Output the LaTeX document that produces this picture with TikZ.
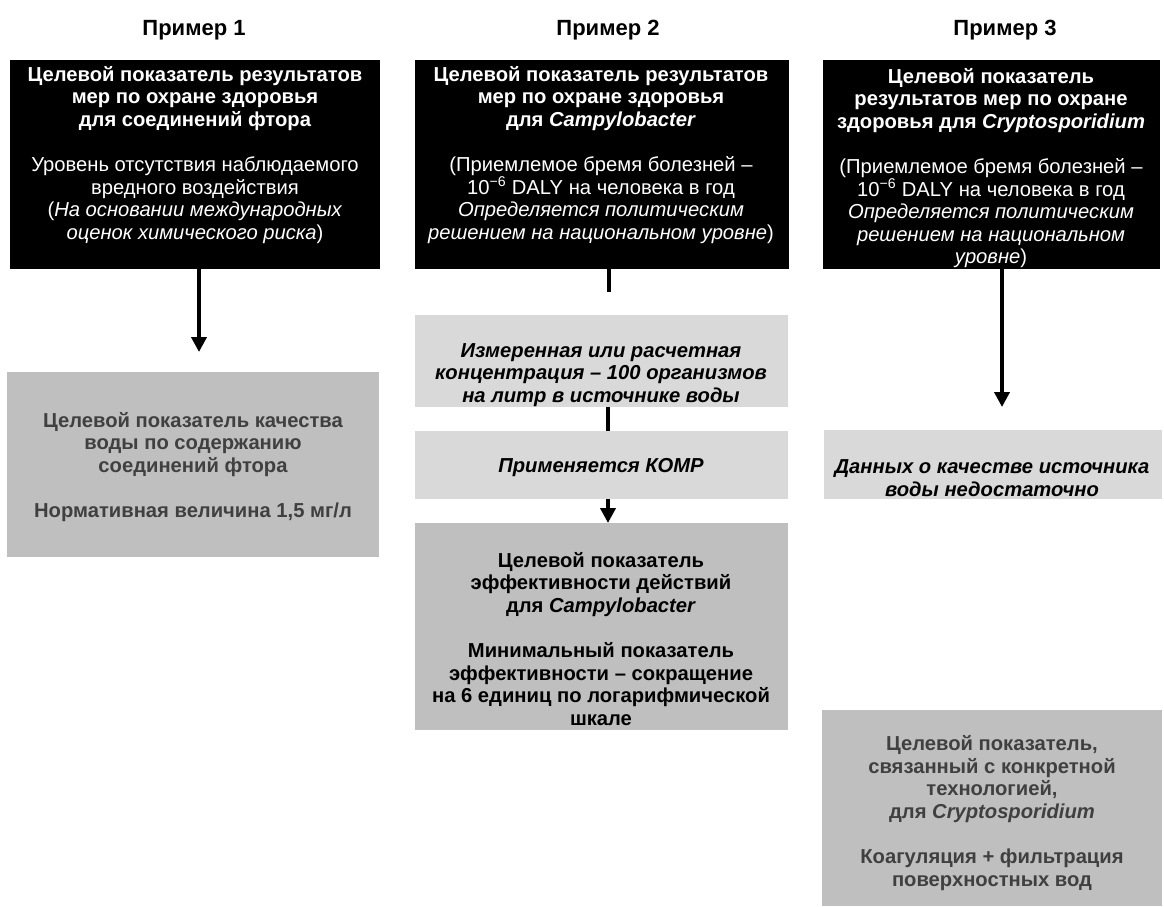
\documentclass[tikz,border=0pt]{standalone}
\usepackage{fontspec}
\setmainfont{Liberation Sans}
\usetikzlibrary{arrows.meta}
\definecolor{boxdark}{HTML}{BFBFBF}
\definecolor{boxlight}{HTML}{D9D9D9}
\definecolor{greytext}{HTML}{404040}
\newcommand{\bodysize}{\fontsize{20.2}{22.6}\selectfont}
\begin{document}
\begin{tikzpicture}[x=1pt,y=-1pt,
  box/.style={inner sep=0pt, outer sep=0pt, anchor=north west},
  txt/.style={inner sep=0pt, align=center, font=\bodysize},
  head/.style={inner sep=0pt, font=\fontsize{22}{25}\selectfont\bfseries},
  ln/.style={line width=4pt, draw=black},
  arr/.style={ln, -{Triangle[width=15pt,length=15pt]}}
]
\useasboundingbox (0,0) rectangle (1164,906);

% column headings
\node[head] (h1) at (194,30) {Пример 1};
\node[head] (h2) at (608,30) {Пример 2};
\node[head] (h3) at (1005,30) {Пример 3};

% health-outcome target boxes
\node[box, fill=black, minimum width=370pt, minimum height=209pt] (b1) at (10,60) {};
\node[box, fill=black, minimum width=374pt, minimum height=209pt] (b2) at (415,60) {};
\node[box, fill=black, minimum width=337pt, minimum height=209pt] (b3) at (823,60) {};

\node[txt, text=white] (b1t) at (195,155) {\textbf{Целевой показатель результатов}\\\textbf{мер по охране здоровья}\\\textbf{для соединений фтора}\\[22.6pt]Уровень отсутствия наблюдаемого\\вредного воздействия\\(\textit{На основании международных}\\\textit{оценок химического риска})};
\node[txt, text=white] (b2t) at (601,155) {\textbf{Целевой показатель результатов}\\\textbf{мер по охране здоровья}\\\textbf{для \textit{Campylobacter}}\\[22.6pt](Приемлемое бремя болезней –\\10\textsuperscript{−6} DALY на человека в год\\\textit{Определяется политическим}\\\textit{решением на национальном уровне})};
\node[txt, text=white] (b3t) at (991,168) {\textbf{Целевой показатель}\\\textbf{результатов мер по охране}\\\textbf{здоровья для \textit{Cryptosporidium}}\\[22.6pt](Приемлемое бремя болезней –\\10\textsuperscript{−6} DALY на человека в год\\\textit{Определяется политическим}\\\textit{решением на национальном}\\\textit{уровне})};

% example 1: water quality target
\node[box, fill=boxdark, minimum width=372pt, minimum height=185pt] (g1) at (7,372) {};
\node[txt, text=greytext, font=\bodysize\bfseries] (g1t) at (193,467) {Целевой показатель качества\\воды по содержанию\\соединений фтора\\[22.6pt]Нормативная величина 1,5 мг/л};

% example 2: performance target chain
\node[box, fill=boxlight, minimum width=373pt, minimum height=92pt] (a2) at (415,315) {};
\node[txt, font=\bodysize\bfseries\itshape] (a2t) at (601,375) {Измеренная или расчетная\\концентрация – 100 организмов\\на литр в источнике воды};

\node[box, fill=boxlight, minimum width=373pt, minimum height=68pt] (m2) at (415,431) {};
\node[txt, font=\bodysize\bfseries\itshape] (m2t) at (601,468) {Применяется КОМР};

\node[box, fill=boxdark, minimum width=373pt, minimum height=207pt] (c2) at (415,523) {};
\node[txt, font=\bodysize\bfseries] (c2t) at (601,639) {Целевой показатель\\эффективности действий\\для \textit{Campylobacter}\\[22.6pt]Минимальный показатель\\эффективности – сокращение\\на 6 единиц по логарифмической\\шкале};

% example 3: technology target
\node[box, fill=boxlight, minimum width=338pt, minimum height=69pt] (d3) at (824,430) {};
\node[txt, font=\bodysize\bfseries\itshape] (d3t) at (992,478) {Данных о качестве источника\\воды недостаточно};

\node[box, fill=boxdark, minimum width=340pt, minimum height=196pt] (t3) at (822,710) {};
\node[txt, text=greytext, font=\bodysize\bfseries] (t3t) at (992,813) {Целевой показатель,\\связанный с конкретной\\технологией,\\для \textit{Cryptosporidium}\\[22.6pt]Коагуляция + фильтрация\\поверхностных вод};

% connectors
\draw[arr, shorten >=20pt] ([xshift=4pt]b1.south) -- ([xshift=4pt]b1.south |- g1.north);
\draw[ln, shorten >=23pt] ([xshift=6.5pt]b2.south) -- ([xshift=6.5pt]b2.south |- a2.north);
\draw[ln] ([xshift=6.5pt]a2.south) -- ([xshift=6.5pt]a2.south |- m2.north);
\draw[arr] ([xshift=6.5pt]m2.south) -- ([xshift=6.5pt]m2.south |- c2.north);
\draw[arr, shorten >=23pt] ([xshift=10.5pt]b3.south) -- ([xshift=10.5pt]b3.south |- d3.north);
\end{tikzpicture}
\end{document}
